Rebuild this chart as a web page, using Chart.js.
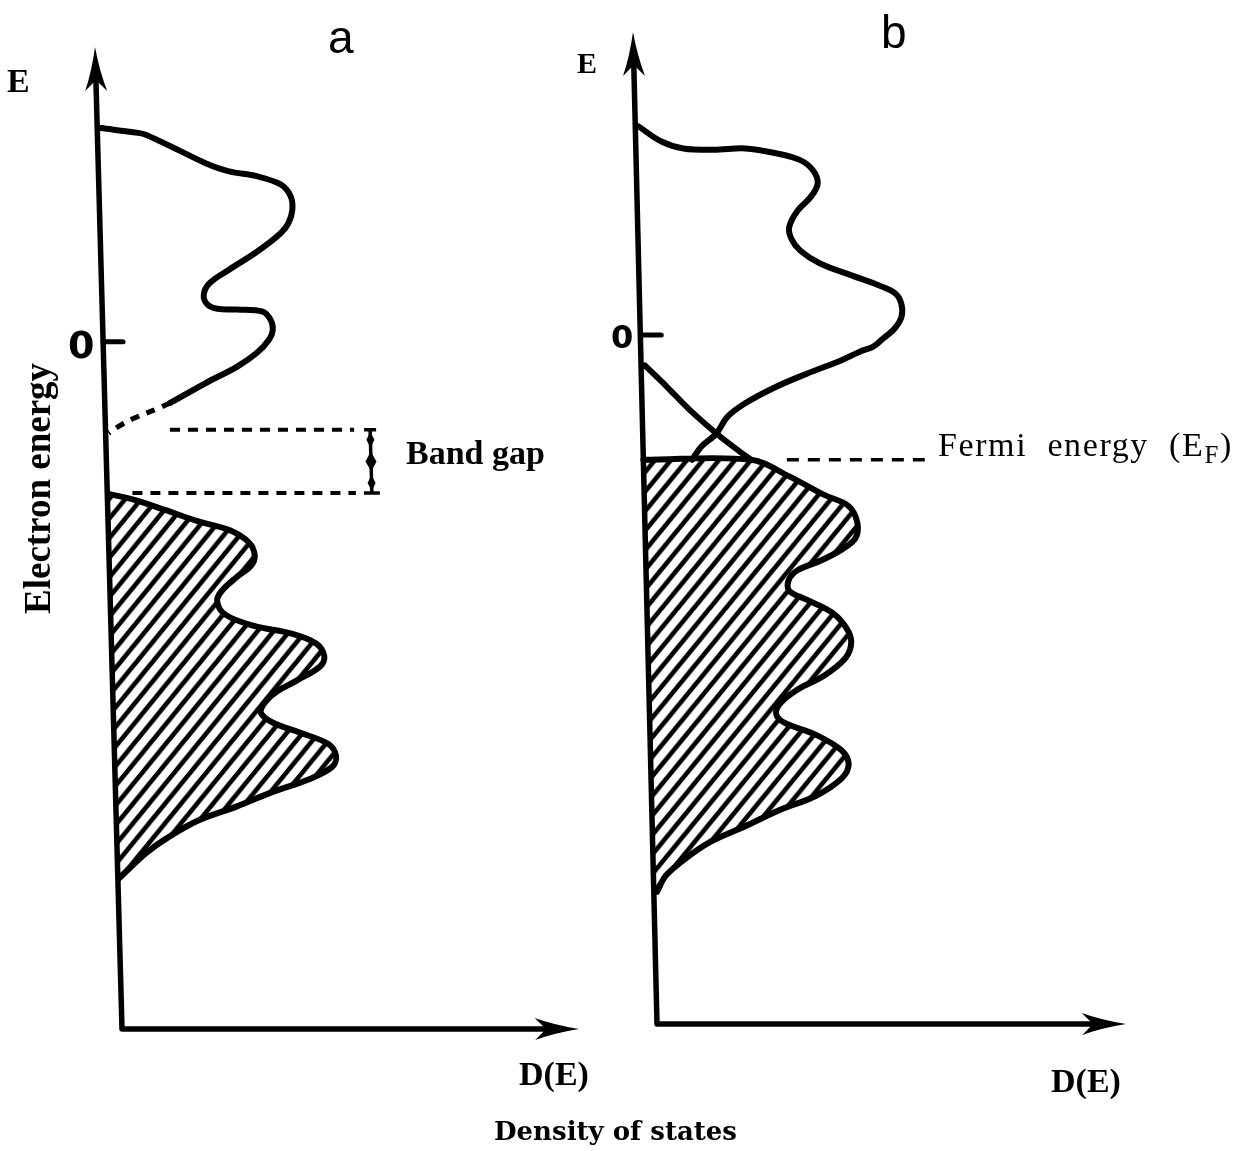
<!DOCTYPE html>
<html>
<head>
<meta charset="utf-8">
<title>Density of states</title>
<script src="https://cdn.jsdelivr.net/npm/chart.js@4.4.1/dist/chart.umd.min.js"></script>
<style>
    html, body { margin: 0; padding: 0; background: #fff; }
    #wrap { position: relative; width: 1250px; height: 1151px; overflow: hidden; background: #fff; }
    #wrap canvas { position: absolute; left: 0; top: 0; }
    .lbl { position: absolute; white-space: nowrap; line-height: 1; color: #000; }
    .serif { font-family: "Liberation Serif", "Times New Roman", serif; }
    .bold { font-weight: bold; }
    .panel { font-family: "Liberation Sans Narrow", "Liberation Sans", sans-serif; font-size: 46px; }
    .zero { font-family: "DejaVu Sans", sans-serif; font-weight: bold; }
    .rot { transform-origin: 0 0; transform: rotate(-90deg); }
    .fermi sub { font-size: 25px; vertical-align: baseline; position: relative; top: 7px; }
</style>
</head>
<body>
<div id="wrap">
    <canvas id="dosA" width="1250" height="1151"></canvas>
    <canvas id="dosB" width="1250" height="1151"></canvas>

    <div class="lbl serif bold" style="left:7px;top:64px;font-size:34px;">E</div>
    <div class="lbl panel" style="left:328px;top:14px;">a</div>
    <div class="lbl zero" style="left:68px;top:326px;font-size:38px;">0</div>
    <div class="lbl serif bold rot" style="left:19px;top:614px;font-size:37px;">Electron energy</div>
    <div class="lbl serif bold" style="left:406px;top:436px;font-size:34px;">Band gap</div>
    <div class="lbl serif bold" style="left:519px;top:1057px;font-size:34px;">D(E)</div>

    <div class="lbl serif bold" style="left:577px;top:48px;font-size:30px;">E</div>
    <div class="lbl panel" style="left:881px;top:9px;">b</div>
    <div class="lbl zero" style="left:611px;top:321px;font-size:32px;">0</div>
    <div class="lbl serif fermi" style="left:938px;top:428px;font-size:34px;letter-spacing:1.6px;">Fermi&nbsp; energy&nbsp; (E<sub>F</sub>)</div>
    <div class="lbl serif bold" style="left:1051px;top:1064px;font-size:34px;">D(E)</div>

    <div class="lbl bold" style="left:494px;top:1118px;font-size:26px;font-family:'DejaVu Serif',serif;">Density of states</div>
</div>
<script>
// panel a: insulator / semiconductor
const condA_E = [3.11, 3.04, 3.01, 2.82, 2.60, 2.48, 2.41, 2.29, 2.12, 1.92, 1.73, 1.58, 1.31, 1.05, 0.85, 0.68, 0.54, 0.48, 0.47, 0.44, 0.32, 0.17, 0.03, -0.16, -0.36, -0.60, -0.89];
const condA_D = [0.08, 0.89, 1.07, 1.67, 2.35, 2.86, 3.46, 3.98, 4.19, 4.22, 4.13, 3.95, 3.42, 2.80, 2.36, 2.23, 2.31, 2.52, 2.95, 3.51, 3.68, 3.72, 3.63, 3.36, 2.92, 2.22, 1.43];
const tailA_E = [-0.97, -1.11, -1.23, -1.33];
const tailA_D = [1.16, 0.64, 0.29, 0.07];
const valA_E = [-2.22, -2.30, -2.45, -2.61, -2.74, -2.92, -3.11, -3.26, -3.42, -3.63, -3.78, -3.97, -4.13, -4.25, -4.39, -4.57, -4.72, -4.93, -5.09, -5.25, -5.40, -5.54, -5.69, -5.85, -6.03, -6.19, -6.37, -6.55, -6.76, -6.97, -7.23, -7.44, -7.65, -7.81];
const valA_D = [0.07, 0.59, 1.27, 1.96, 2.65, 3.07, 3.19, 3.10, 2.79, 2.44, 2.34, 2.51, 3.11, 3.97, 4.48, 4.65, 4.56, 4.03, 3.59, 3.32, 3.23, 3.48, 4.08, 4.68, 4.85, 4.75, 4.23, 3.44, 2.65, 1.78, 1.08, 0.63, 0.28, 0.02];
const gapTop = -1.28;
const gapBottom = -2.2;

// panel b: metal
const condB_E = [3.03, 2.81, 2.71, 2.69, 2.71, 2.64, 2.54, 2.39, 2.20, 2.01, 1.81, 1.57, 1.40, 1.23, 1.04, 0.87, 0.73, 0.61, 0.46, 0.27, 0.10, -0.07, -0.17, -0.24, -0.36, -0.56, -0.75, -0.99, -1.19, -1.43, -1.62, -1.81];
const condB_D = [0.07, 0.55, 1.01, 1.67, 2.33, 2.99, 3.50, 3.77, 3.86, 3.71, 3.42, 3.23, 3.27, 3.45, 3.87, 4.52, 5.08, 5.45, 5.58, 5.58, 5.43, 5.14, 4.95, 4.67, 4.29, 3.53, 2.87, 2.20, 1.81, 1.57, 1.24, 1.04];
const valB_E = [-0.44, -0.75, -1.09, -1.45, -1.69, -1.81, -2.05, -2.32, -2.48, -2.72, -2.95, -3.11, -3.28, -3.41, -3.55, -3.71, -3.84, -4.04, -4.31, -4.51, -4.71, -4.94, -5.14, -5.34, -5.50, -5.63, -5.80, -6.03, -6.23, -6.43, -6.69, -6.89, -7.13, -7.36, -7.62, -7.85, -8.08];
const valB_D = [0.08, 0.54, 1.02, 1.61, 2.06, 2.30, 3.10, 3.84, 4.35, 4.53, 4.48, 4.19, 3.71, 3.24, 3.04, 3.04, 3.41, 3.97, 4.29, 4.33, 4.18, 3.75, 3.18, 2.80, 2.70, 2.88, 3.53, 4.08, 4.22, 4.07, 3.50, 2.74, 1.98, 1.22, 0.65, 0.26, 0.07];
const fermiLevel = -1.81;

const yTicks = [0];

function toPoints(es, ds) {
    return es.map((e, i) => ({ x: ds[i], y: e }));
}

// diagonal hatching for the occupied states (a bit steeper than 45 degrees)
function makeHatch() {
    const w = 16, h = 19;
    const c = document.createElement("canvas");
    c.width = w;
    c.height = h;
    const g = c.getContext("2d");
    g.strokeStyle = "#000";
    g.lineWidth = 4.6;
    g.beginPath();
    for (let k = 0; k <= 2; k++) {
        // line x/w + y/h = k, extended past the tile edges
        g.moveTo(w * k + w, -h);
        g.lineTo(w * k - 2 * w, 2 * h);
    }
    g.stroke();
    return g.createPattern(c, "repeat");
}

function arrowHead(ctx, tx, ty, dx, dy) {
    const len = 44, half = 11, notch = 33;
    const px = -dy, py = dx;
    const bx1 = tx - dx * len + px * half, by1 = ty - dy * len + py * half;
    const bx2 = tx - dx * len - px * half, by2 = ty - dy * len - py * half;
    ctx.beginPath();
    ctx.moveTo(tx, ty);
    ctx.quadraticCurveTo(tx - dx * len * 0.55 + px * half * 0.35, ty - dy * len * 0.55 + py * half * 0.35, bx1, by1);
    ctx.lineTo(tx - dx * notch, ty - dy * notch);
    ctx.lineTo(bx2, by2);
    ctx.quadraticCurveTo(tx - dx * len * 0.55 - px * half * 0.35, ty - dy * len * 0.55 - py * half * 0.35, tx, ty);
    ctx.closePath();
    ctx.fill();
}

function diamond(ctx, x, y, w, h) {
    ctx.beginPath();
    ctx.moveTo(x, y - h / 2);
    ctx.lineTo(x + w / 2, y);
    ctx.lineTo(x, y + h / 2);
    ctx.lineTo(x - w / 2, y);
    ctx.closePath();
    ctx.fill();
}

// hand drawn look: slanted energy axis, arrows, tick, band gap / Fermi markers
const decorPlugin = {
    id: "dosDecor",
    beforeDraw(chart, args, opts) {
        const ctx = chart.ctx;
        ctx.save();
        ctx.transform(1, 0, opts.skew, 1, -opts.skew * chart.chartArea.bottom, 0);
    },
    beforeDatasetsDraw(chart, args, opts) {
        const ctx = chart.ctx;
        const xs = chart.scales.x, ys = chart.scales.y;
        const x0 = xs.getPixelForValue(0);
        const xEnd = xs.getPixelForValue(xs.max);
        const yTop = ys.getPixelForValue(ys.max);
        const yBot = ys.getPixelForValue(ys.min);

        ctx.save();
        ctx.strokeStyle = "#000";
        ctx.fillStyle = "#000";
        ctx.lineWidth = 5.5;
        ctx.lineCap = "round";
        ctx.lineJoin = "round";
        ctx.beginPath();
        ctx.moveTo(x0, yTop + 24);
        ctx.lineTo(x0, yBot);
        ctx.lineTo(xEnd - 24, yBot);
        ctx.stroke();
        arrowHead(ctx, x0, yTop, 0, -1);
        arrowHead(ctx, xEnd, yBot, 1, 0);

        ctx.lineWidth = 5;
        yTicks.forEach((v) => {
            const py = ys.getPixelForValue(v);
            ctx.beginPath();
            ctx.moveTo(x0, py);
            ctx.lineTo(x0 + opts.tickLen, py);
            ctx.stroke();
        });

        ctx.lineCap = "butt";
        ctx.lineWidth = 4;
        ctx.setLineDash([10, 8]);
        if (opts.gap) {
            const g = opts.gap;
            const pt = ys.getPixelForValue(gapTop);
            const pb = ys.getPixelForValue(gapBottom);
            ctx.beginPath();
            ctx.moveTo(xs.getPixelForValue(g.topFrom), pt);
            ctx.lineTo(xs.getPixelForValue(g.to), pt);
            ctx.moveTo(xs.getPixelForValue(g.bottomFrom), pb);
            ctx.lineTo(xs.getPixelForValue(g.to), pb);
            ctx.stroke();

            ctx.setLineDash([]);
            const bx = xs.getPixelForValue(g.bar);
            ctx.lineWidth = 3.5;
            ctx.beginPath();
            ctx.moveTo(bx, pt);
            ctx.lineTo(bx, pb);
            ctx.moveTo(bx - 6, pt);
            ctx.lineTo(bx + 6, pt);
            ctx.moveTo(bx - 8, pb);
            ctx.lineTo(bx + 8, pb);
            ctx.stroke();
            diamond(ctx, bx, (pt + pb) / 2, 11, 20);
            diamond(ctx, bx, pt + 10, 8, 16);
            diamond(ctx, bx, pb - 10, 8, 16);
        }
        if (opts.fermi) {
            const f = opts.fermi;
            const pf = ys.getPixelForValue(fermiLevel);
            ctx.setLineDash([12, 9]);
            ctx.lineWidth = 3.5;
            ctx.beginPath();
            ctx.moveTo(xs.getPixelForValue(f.from), pf);
            ctx.lineTo(xs.getPixelForValue(f.to), pf);
            ctx.stroke();
        }
        ctx.restore();
    },
    afterDraw(chart) {
        chart.ctx.restore();
    },
};

function curve(points, extra) {
    return Object.assign({
        data: points,
        showLine: true,
        pointRadius: 0,
        borderColor: "#000",
        borderWidth: 6,
        borderCapStyle: "round",
        borderJoinStyle: "round",
        tension: 0.35,
        fill: false,
        clip: false,
    }, extra || {});
}

function baseOptions(padding, yMax, decor) {
    return {
        indexAxis: "y",
        responsive: false,
        animation: false,
        events: [],
        layout: { padding: padding },
        scales: {
            x: { type: "linear", display: false, min: 0, max: 10 },
            y: { type: "linear", display: false, min: -10, max: yMax },
        },
        plugins: {
            legend: { display: false },
            tooltip: { enabled: false },
            dosDecor: decor,
        },
    };
}

const hatch = makeHatch();

// panel a
const condA = toPoints(condA_E, condA_D);
const tailA = [condA[condA.length - 1]].concat(toPoints(tailA_E, tailA_D));
const valA = toPoints(valA_E, valA_D);

new Chart(document.getElementById("dosA"), {
    type: "scatter",
    data: {
        datasets: [
            curve(condA),
            curve(tailA, { borderDash: [9, 8], borderWidth: 5, borderCapStyle: "butt" }),
            curve(valA, { fill: "origin", backgroundColor: hatch }),
        ],
    },
    options: baseOptions({ left: 122, right: 671, top: 47, bottom: 122 }, 4.29, {
        skew: 0.0275,
        tickLen: 20,
        gap: { topFrom: 1.41, bottomFrom: 0.55, to: 5.44, bar: 5.79 },
    }),
    plugins: [decorPlugin],
});

// panel b
const condB = toPoints(condB_E, condB_D);
const valB = toPoints(valB_E, valB_D);
const valBEmpty = valB.filter((p) => p.y >= fermiLevel);
const valBFilled = [{ x: 0, y: fermiLevel }].concat(valB.filter((p) => p.y <= fermiLevel));

new Chart(document.getElementById("dosB"), {
    type: "scatter",
    data: {
        datasets: [
            curve(condB),
            curve(valBEmpty),
            curve(valBFilled, { fill: "origin", backgroundColor: hatch }),
        ],
    },
    options: baseOptions({ left: 657, right: 124, top: 32, bottom: 127 }, 4.4, {
        skew: 0.0242,
        tickLen: 21,
        fermi: { from: 3.06, to: 6.0 },
    }),
    plugins: [decorPlugin],
});
</script>
</body>
</html>
